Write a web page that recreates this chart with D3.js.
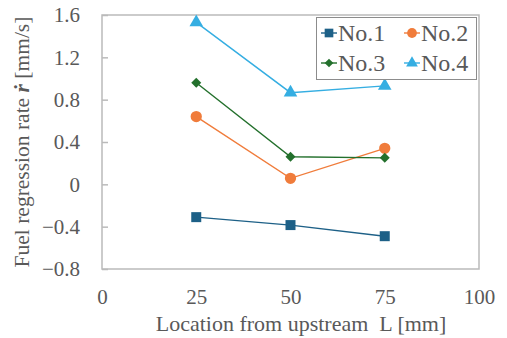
<!DOCTYPE html>
<html>
<head>
<meta charset="utf-8">
<script src="https://cdn.jsdelivr.net/npm/d3@7"></script>
<style>
  body { margin: 0; background: #fff; }
  svg text { font-family: "Liberation Serif", "Times New Roman", serif; fill: #595959; }
</style>
</head>
<body>
<div id="chart"></div>
<script>
(function() {

    var width = 507;
    var height = 338;

    // data
    var locations = [25, 50, 75];
    var seriesNames = ["No.1", "No.2", "No.3", "No.4"];
    var no1 = [-0.31, -0.385, -0.49];
    var no2 = [0.64, 0.057, 0.34];
    var no3 = [0.96, 0.26, 0.25];
    var no4 = [1.53, 0.866, 0.93];
    var xTicks = [0, 25, 50, 75, 100];
    var yTicks = [-0.8, -0.4, 0, 0.4, 0.8, 1.2, 1.6];

    var colors = ["#1d6087", "#f07c3b", "#23702c", "#35aee2"];
    var symbols = [d3.symbolSquare, d3.symbolCircle, d3.symbolSquare, d3.symbolTriangle];
    var symSizes = [100, 100, 50, 80];
    var symRotate = [0, 0, 45, 0];

    var margin = {top: 15, right: 28, bottom: 69, left: 102};

    var svg = d3.select("#chart")
        .append("svg")
        .attr("width", width)
        .attr("height", height);

    var x = d3.scaleLinear().domain([0, 100]).range([margin.left, width - margin.right]);
    var y = d3.scaleLinear().domain([-0.8, 1.6]).range([height - margin.bottom, margin.top]);

    // frame
    svg.append("rect")
        .attr("x", x(0))
        .attr("y", y(1.6))
        .attr("width", x(100) - x(0))
        .attr("height", y(-0.8) - y(1.6))
        .attr("fill", "none")
        .attr("stroke", "#bababa")
        .attr("stroke-width", 1.5);

    // y axis, ticks pointing inward
    var yAxis = svg.append("g")
        .attr("transform", "translate(" + x(0) + ",0)")
        .call(d3.axisLeft(y).tickValues(yTicks).tickSizeInner(-6).tickSizeOuter(0)
            .tickPadding(22).tickFormat(d => d === 0 ? "0" : d3.format(".1f")(d)));
    yAxis.attr("font-family", null);
    yAxis.select(".domain").remove();
    yAxis.selectAll("line").attr("stroke", "#bababa").attr("stroke-width", 1.5);
    yAxis.selectAll("text")
        .style("font-size", "21px")
        .attr("fill", "#595959");

    // x axis, no tick marks
    var xAxis = svg.append("g")
        .attr("transform", "translate(0," + y(-0.8) + ")")
        .call(d3.axisBottom(x).tickValues(xTicks).tickSize(0).tickPadding(20));
    xAxis.attr("font-family", null);
    xAxis.select(".domain").remove();
    xAxis.selectAll("text")
        .style("font-size", "21px")
        .attr("fill", "#595959");

    // axis titles
    svg.append("text")
        .attr("x", 301)
        .attr("y", 331)
        .attr("text-anchor", "middle")
        .attr("font-size", 22)
        .text("Location from upstream\u00a0\u00a0L [mm]");

    var yt = svg.append("text")
        .attr("transform", "translate(29,142) rotate(-90)")
        .attr("text-anchor", "middle")
        .attr("font-size", 21.5);
    yt.append("tspan").text("Fuel regression rate ");
    yt.append("tspan").attr("font-style", "italic").attr("font-weight", "bold").text("\u1E59");
    yt.append("tspan").text(" [mm/s]");

    var all = [no1, no2, no3, no4];
    var line = d3.line()
        .x((d, i) => x(locations[i]))
        .y(d => y(d));

    all.forEach(function(vals, k) {
        svg.append("path")
            .datum(vals)
            .attr("d", line)
            .attr("fill", "none")
            .attr("stroke", colors[k])
            .attr("stroke-width", 1.4);

        svg.selectAll(null)
            .data(vals)
            .enter().append("path")
            .attr("d", d3.symbol().type(symbols[k]).size(symSizes[k]))
            .attr("transform", (d, i) => "translate(" + x(locations[i]) + "," + y(d) + ") rotate(" + symRotate[k] + ")")
            .attr("fill", colors[k]);
    });

    // legend
    var lg = svg.append("g");
    lg.append("rect")
        .attr("x", 316.5)
        .attr("y", 17.5)
        .attr("width", 160)
        .attr("height", 62)
        .attr("fill", "#fff")
        .attr("stroke", "#8c8c8c")
        .attr("stroke-width", 1);

    var legPos = [[329, 33], [412, 33], [329, 63], [412, 63]];
    seriesNames.forEach(function(name, k) {
        var p = legPos[k];
        lg.append("line")
            .attr("x1", p[0] - 8).attr("x2", p[0] + 8)
            .attr("y1", p[1]).attr("y2", p[1])
            .attr("stroke", colors[k])
            .attr("stroke-width", 1.4);
        lg.append("path")
            .attr("d", d3.symbol().type(symbols[k]).size(symSizes[k] * 0.75))
            .attr("transform", "translate(" + p[0] + "," + p[1] + ") rotate(" + symRotate[k] + ")")
            .attr("fill", colors[k]);
        lg.append("text")
            .attr("x", p[0] + 9)
            .attr("y", p[1] + 8)
            .attr("font-size", 24)
            .text(name);
    });

})();
</script>
</body>
</html>
